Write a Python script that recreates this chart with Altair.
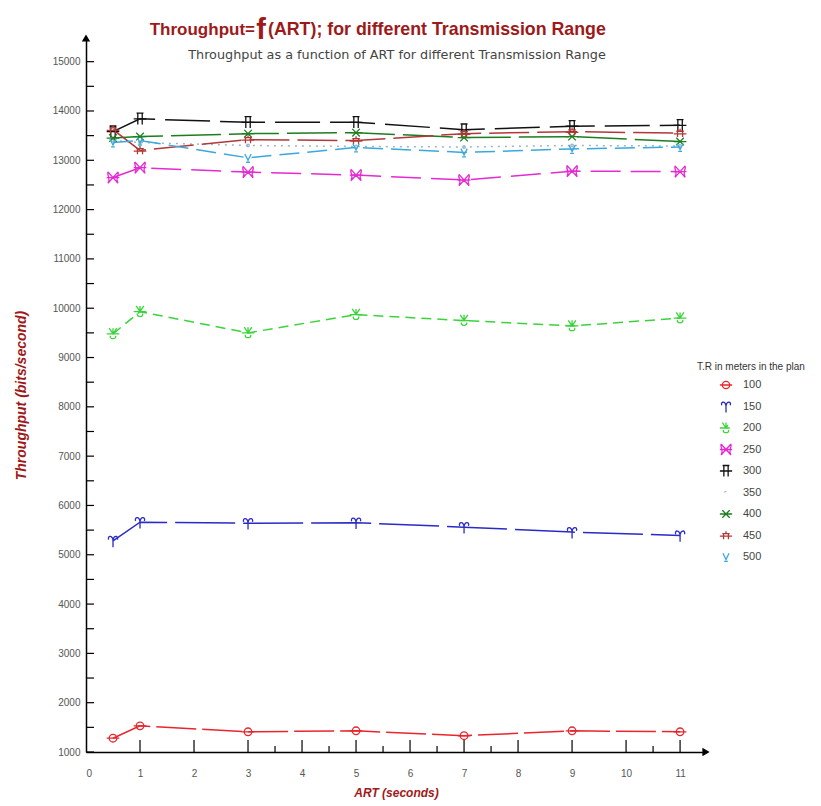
import altair as alt
import pandas as pd

# ART values (seconds) at which throughput was measured
art = [0.5, 1, 3, 5, 7, 9, 11]

# Throughput (bits/second) per transmission range (meters)
tr_100 = [1280, 1530, 1410, 1430, 1330, 1430, 1410]
tr_150 = [5280, 5660, 5640, 5650, 5560, 5460, 5390]
tr_200 = [9480, 9930, 9500, 9870, 9750, 9640, 9800]
tr_250 = [12650, 12850, 12760, 12700, 12600, 12780, 12770]
tr_300 = [13580, 13840, 13770, 13770, 13620, 13690, 13710]
tr_350 = [13400, 13360, 13300, 13280, 13270, 13300, 13290]
tr_400 = [13450, 13480, 13540, 13560, 13460, 13480, 13380]
tr_450 = [13620, 13200, 13420, 13400, 13540, 13580, 13550]
tr_500 = [13360, 13400, 13050, 13260, 13160, 13230, 13270]

ranges = ["100", "150", "200", "250", "300", "350", "400", "450", "500"]
series = [tr_100, tr_150, tr_200, tr_250, tr_300, tr_350, tr_400, tr_450, tr_500]

colors = ["#e8262e", "#2a2ac8", "#3ad43a", "#e62ad2", "#111111",
          "#9db4c8", "#1e7d1e", "#b23838", "#3aa8dc"]
dashes = [[40, 6], [60, 8], [10, 6], [30, 10], [45, 10],
          [2, 5], [50, 8], [40, 8], [20, 8]]
shapes = [
    "M-0.6,0A0.6,0.6 0 1,1 0.6,0A0.6,0.6 0 1,1 -0.6,0Z M-1,0L1,0",
    "M0,1L0,-0.1 M0,-0.1C-0.1,-0.9 -0.9,-0.9 -0.7,-0.2 M0,-0.1C0.1,-0.9 0.9,-0.9 0.7,-0.2",
    "M-1,0L1,0 M-0.6,-0.9L0,0L0.6,-0.9 M-0.4,0.3C-0.7,0.9 0.7,0.9 0.4,0.3 M0,0L0,-0.9",
    "M-0.8,-0.9L0.8,0.9 M0.8,-0.9L-0.8,0.9 M-0.8,-0.9C-1,-0.2 -0.3,0 -0.8,0.9 M0.8,-0.9C1,-0.2 0.3,0 0.8,0.9 M-1,0L1,0",
    "M-1,0L1,0 M-0.35,-0.9L-0.35,0.9 M0.35,-0.9L0.35,0.9 M-0.55,-0.9L0.55,-0.9",
    "M-0.2,0A0.2,0.2 0 1,1 0.2,0A0.2,0.2 0 1,1 -0.2,0Z",
    "M-1,0L1,0 M-0.6,-0.6L0.6,0.6 M0.6,-0.6L-0.6,0.6",
    "M-1,0.1L1,0.1 M-0.6,-0.3L0.6,-0.3 M-0.4,-0.3L-0.4,0.6 M0.4,-0.3L0.4,0.6 M0,-0.3L0,-0.7",
    "M-0.5,-0.6L0,0.4L0.5,-0.6 M-0.3,0.7L0.3,0.7",
]

y_ticks = list(range(1000, 15001, 500))
x_major = list(range(1, 12))
x_minor = [3.5, 4.5, 5.5, 6.5, 7.5, 10.5]

rows = []
for name, vals in zip(ranges, series):
    for a, v in zip(art, vals):
        rows.append({"ART": a, "Throughput": v, "TR": name})
df = pd.DataFrame(rows)

X_DOM = [0, 11.48]
Y_DOM = [1000, 15480]
DARK_RED = "#9e1a1a"

x_enc = alt.X("ART:Q", scale=alt.Scale(domain=X_DOM, nice=False, zero=False),
              axis=alt.Axis(values=list(range(0, 12)), title="ART (seconds)", format="d",
                            grid=False, ticks=False, domainColor="#000", domainWidth=1.5,
                            labelColor="#555", labelFontSize=10, labelPadding=16,
                            titleColor=DARK_RED, titleFontSize=12, titleFontStyle="italic",
                            titleFontWeight="bold", titlePadding=9))
y_enc = alt.Y("Throughput:Q", scale=alt.Scale(domain=Y_DOM, nice=False, zero=False),
              axis=alt.Axis(values=list(range(1000, 15001, 1000)), format="d",
                            title="Throughput (bits/second)",
                            grid=False, ticks=False, domainColor="#000", domainWidth=1.5,
                            labelColor="#555", labelFontSize=10, labelPadding=6,
                            titleColor=DARK_RED, titleFontSize=14, titleFontStyle="italic",
                            titleFontWeight="bold", titlePadding=24))

legend_def = alt.Legend(title="T.R in meters in the plan", orient="none",
                        legendX=611, legendY=324, titleFontSize=10,
                        titleFontWeight="normal", titleColor="#333",
                        labelFontSize=11, labelColor="#444", labelOffset=10,
                        symbolOffset=22, rowPadding=7.5, clipHeight=14, symbolSize=150,
                        symbolStrokeWidth=1.3, titlePadding=6)
color_scale = alt.Scale(domain=ranges, range=colors)

base = alt.Chart(df)

lines = base.mark_line(strokeWidth=1.5).encode(
    x=x_enc, y=y_enc,
    color=alt.Color("TR:N", scale=color_scale, legend=legend_def),
    strokeDash=alt.StrokeDash("TR:N", scale=alt.Scale(domain=ranges, range=dashes), legend=None),
    detail="TR:N",
)

points = base.mark_point(filled=False, size=160, strokeWidth=1.3, opacity=1).encode(
    x="ART:Q", y="Throughput:Q",
    color=alt.Color("TR:N", scale=color_scale, legend=legend_def),
    shape=alt.Shape("TR:N", scale=alt.Scale(domain=ranges, range=shapes), legend=legend_def),
)

# inward tick marks on both axes
ytick_df = pd.DataFrame({"v": y_ticks})
yticks = alt.Chart(ytick_df).mark_rule(color="#000", strokeWidth=1.2).encode(
    y="v:Q", x=alt.value(0), x2=alt.value(8))
xmaj_df = pd.DataFrame({"v": x_major})
xmaj = alt.Chart(xmaj_df).mark_rule(color="#000", strokeWidth=1.2).encode(
    x="v:Q", y=alt.value(714), y2=alt.value(702))
xmin_df = pd.DataFrame({"v": x_minor})
xmin = alt.Chart(xmin_df).mark_rule(color="#000", strokeWidth=1.2).encode(
    x="v:Q", y=alt.value(714), y2=alt.value(708))

# axis arrow heads
arr_up = alt.Chart(pd.DataFrame({"a": [0], "b": [Y_DOM[1]]})).mark_point(
    shape="triangle-up", filled=True, color="#000", size=70, opacity=1).encode(
    x="a:Q", y="b:Q")
arr_right = alt.Chart(pd.DataFrame({"a": [X_DOM[1]], "b": [Y_DOM[0]]})).mark_point(
    shape="triangle-right", filled=True, color="#000", size=70, opacity=1).encode(
    x="a:Q", y="b:Q")

# title pieces
t1 = alt.Chart(pd.DataFrame({"t": ["Throughput="]})).mark_text(
    align="right", baseline="alphabetic", fontSize=17, fontWeight="bold",
    color=DARK_RED, font="Liberation Sans").encode(
    text="t:N", x=alt.value(169), y=alt.value(-3))
t2 = alt.Chart(pd.DataFrame({"t": ["f"]})).mark_text(
    align="center", baseline="alphabetic", fontSize=29, fontWeight="bold",
    color=DARK_RED, font="Liberation Sans").encode(
    text="t:N", x=alt.value(175), y=alt.value(1))
t3 = alt.Chart(pd.DataFrame({"t": ["(ART); for different Transmission Range"]})).mark_text(
    align="left", baseline="alphabetic", fontSize=17.8, fontWeight="bold",
    color=DARK_RED, font="Liberation Sans").encode(
    text="t:N", x=alt.value(182), y=alt.value(-3))
sub = alt.Chart(pd.DataFrame({"t": ["Throughput as a function of ART for different Transmission Range"]})).mark_text(
    align="center", baseline="middle", fontSize=12.8, color="#444",
    font="DejaVu Sans").encode(
    text="t:N", x=alt.value(311), y=alt.value(17))

chart = alt.layer(lines, points, yticks, xmaj, xmin, arr_up, arr_right, t1, t2, t3, sub).resolve_scale(
    color="shared", shape="shared"
).properties(
    width=620, height=714,
    autosize=alt.AutoSizeParams(type="none"),
    padding={"left": 86, "top": 38, "right": 115, "bottom": 54},
).configure(
    font="Liberation Sans", background="white", view=alt.ViewConfig(stroke=None)
)

chart.save("out.html", embed_options={"renderer": "svg", "actions": False})
